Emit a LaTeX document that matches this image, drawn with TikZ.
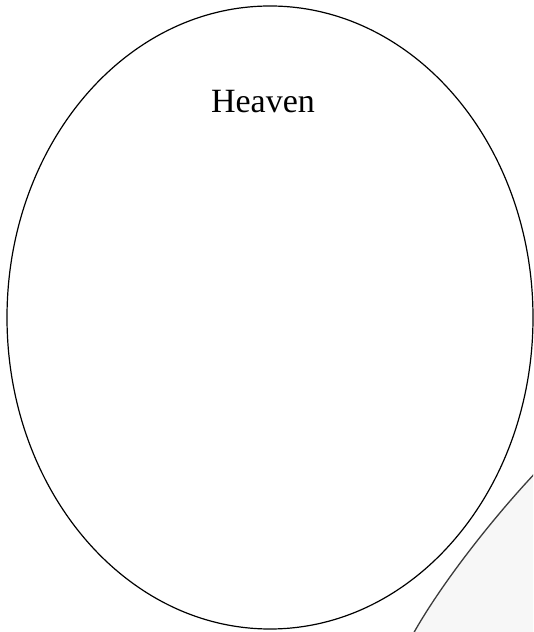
\documentclass[tikz,border=0pt]{standalone}
\usepackage{fontspec}
\setmainfont{Liberation Serif}
\usetikzlibrary{positioning}
\definecolor{ink}{HTML}{000000}
\definecolor{edgeGrey}{HTML}{3a3a3a}
\definecolor{paleFill}{HTML}{f7f7f7}
\def\picW{533}
\def\picH{632}
\def\ovalX{270}
\def\ovalY{314.5}
\def\ovalRx{263}
\def\ovalRy{311.5}

\begin{document}
\begin{tikzpicture}[
    x=1pt, y=1pt,
    oval/.style={draw=ink, line width=1.2pt},
    rim/.style={draw=edgeGrey, line width=1.3pt},
    label/.style={font=\fontsize{34}{38}\selectfont, color=ink, anchor=base},
    ]

\useasboundingbox (0,0) rectangle (\picW,\picH);

% ====================================================================
% Second oval, only its rim shows at the lower right
% ====================================================================
\begin{scope}
  \clip (0,0) rectangle (\picW,\picH);
  \fill[paleFill] (540,164) .. controls (495,117) and (440,47) .. (412,-4)
    -- (\picW+10,-4) -- (\picW+10,164) -- cycle;
  \draw[rim] (540,164) .. controls (495,117) and (440,47) .. (412,-4);
\end{scope}

% ====================================================================
% Heaven oval
% ====================================================================
\draw[oval] (\ovalX,\ovalY) ellipse [x radius=\ovalRx, y radius=\ovalRy];

\node[label] (heaven) at (263,519) {Heaven};

\end{tikzpicture}
\end{document}
